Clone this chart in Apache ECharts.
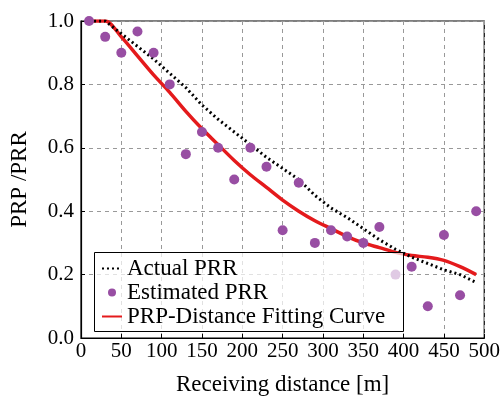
<!DOCTYPE html>
<html><head><meta charset="utf-8">
<script src="https://cdn.jsdelivr.net/npm/echarts@6/dist/echarts.min.js"></script>
<style>html,body{margin:0;padding:0;background:#fff}#c{width:503px;height:401px}</style>
</head><body><div id="c"></div>
<script>
const distances = [10,30,50,70,90,110,130,150,170,190,210,230,250,270,290,310,330,350,370,390,410,430,450,470,490];
const actualPRR = [1.0,1.0,0.96,0.92,0.88,0.835,0.79,0.735,0.69,0.65,0.61,0.57,0.535,0.5,0.45,0.41,0.38,0.345,0.31,0.28,0.255,0.235,0.215,0.2,0.175];
const estimatedPRR = [1.0,0.95,0.90,0.967,0.90,0.80,0.58,0.65,0.60,0.50,0.60,0.54,0.34,0.49,0.30,0.34,0.32,0.30,0.35,0.20,0.225,0.10,0.325,0.135,0.40];
const fittingCurve = [1.0,1.0,0.95,0.89,0.83,0.775,0.715,0.66,0.61,0.56,0.515,0.475,0.435,0.40,0.37,0.345,0.32,0.30,0.285,0.27,0.26,0.255,0.245,0.225,0.20];
const xTicks = [0,50,100,150,200,250,300,350,400,450,500];
const yTicks = [0,0.2,0.4,0.6,0.8,1.0];

const pair = arr => distances.map((d,i)=>[d,arr[i]]);
const font = 'Liberation Serif';
const chart = echarts.init(document.getElementById('c'), null, {renderer:'canvas'});
chart.setOption({
  animation:false,
  grid:{left:81,right:17,top:21,bottom:60,show:true,borderColor:'#000',borderWidth:1.2,backgroundColor:'transparent'},
  xAxis:{type:'value',min:xTicks[0],max:xTicks[xTicks.length-1],interval:50,
    name:'Receiving distance [m]',nameLocation:'middle',nameGap:35,
    nameTextStyle:{fontFamily:font,fontSize:23,color:'#000'},
    axisLine:{show:true,lineStyle:{color:'#000',width:1.2}},
    axisTick:{show:true,inside:true,length:4,lineStyle:{color:'#000'}},
    axisLabel:{fontFamily:font,fontSize:21,color:'#000',margin:3},
    splitLine:{show:true,lineStyle:{color:'#999',type:[4,4],width:1}}},
  yAxis:{type:'value',min:yTicks[0],max:yTicks[yTicks.length-1],interval:0.2,
    name:'PRP /PRR',nameLocation:'middle',nameGap:50,
    nameTextStyle:{fontFamily:font,fontSize:23,color:'#000'},
    axisLine:{show:true,lineStyle:{color:'#000',width:1.2}},
    axisTick:{show:true,inside:true,length:4,lineStyle:{color:'#000'}},
    axisLabel:{fontFamily:font,fontSize:21,color:'#000',margin:7,formatter:v=>v.toFixed(1)},
    splitLine:{show:true,lineStyle:{color:'#999',type:[4,4],width:1}}},
  graphic:[{type:'rect',z:50,shape:{x:94.5,y:252.5,width:309,height:79},
    style:{fill:'rgba(255,255,255,0.7)',stroke:'#000',lineWidth:1}}],
  legend:{orient:'vertical',left:94,top:252,itemGap:1,z:60,
    padding:[5,6,4,7],itemWidth:20,itemHeight:8,
    textStyle:{fontFamily:font,fontSize:23,color:'#000'},
    data:[{name:'Actual PRR',itemStyle:{opacity:0}},
          {name:'Estimated PRR',icon:'circle',itemStyle:{opacity:1}},
          {name:'PRP-Distance Fitting Curve',itemStyle:{opacity:0}}]},
  series:[
    {name:'Actual PRR',type:'line',data:pair(actualPRR),symbol:'none',z:3,
     lineStyle:{color:'#000',width:3,type:[2,3]},itemStyle:{color:'#000'}},
    {name:'PRP-Distance Fitting Curve',type:'line',data:pair(fittingCurve),symbol:'none',smooth:0.3,z:2,
     lineStyle:{color:'#e41a1c',width:3.5},itemStyle:{color:'#e41a1c'}},
    {name:'Estimated PRR',type:'scatter',data:pair(estimatedPRR),symbol:'circle',symbolSize:10,z:4,
     itemStyle:{color:'#984ea3',opacity:1}}
  ]
});
</script></body></html>
